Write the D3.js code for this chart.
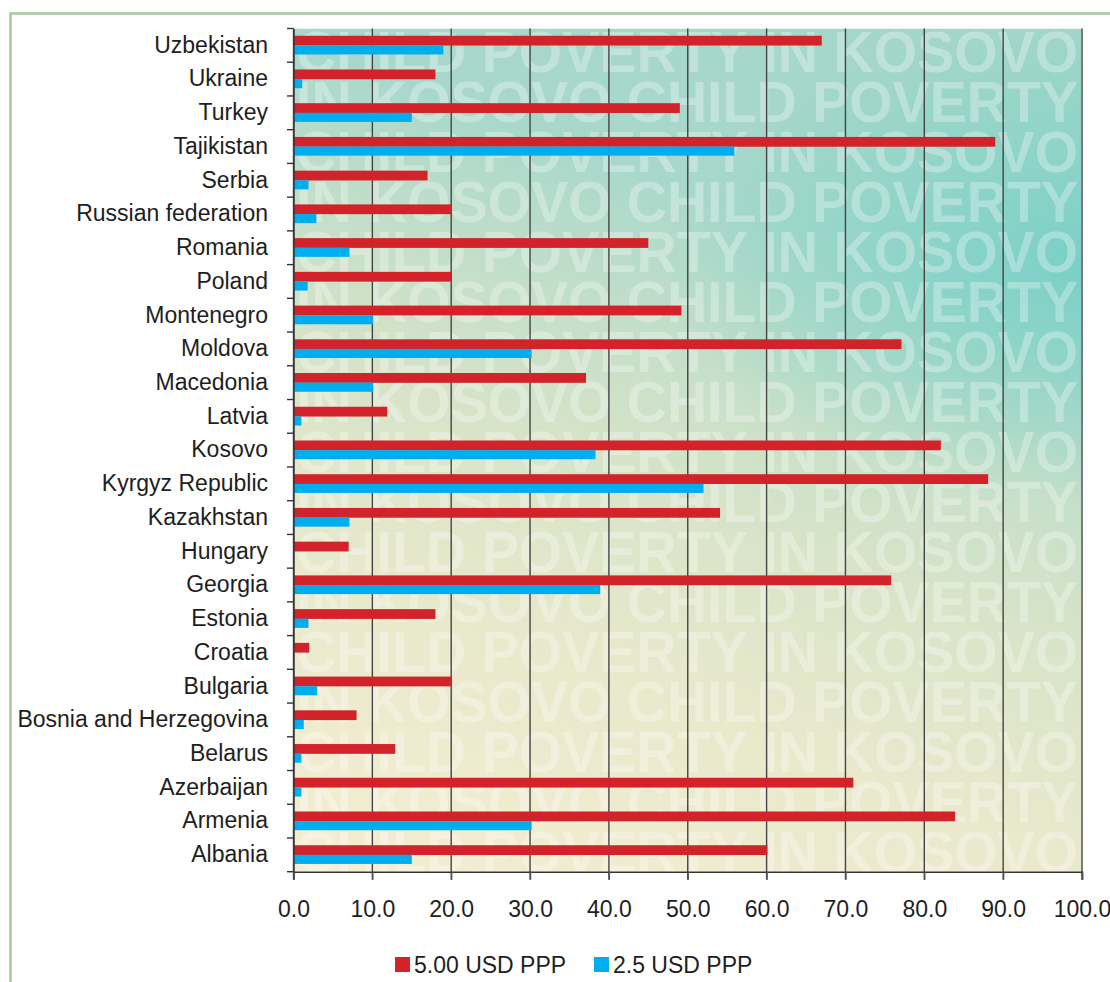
<!DOCTYPE html>
<html>
<head>
<meta charset="utf-8">
<script src="https://cdn.jsdelivr.net/npm/d3@7"></script>
<style>
  html, body { margin: 0; padding: 0; background: #fff; }
  svg { display: block; }
  text { font-family: "Liberation Sans", Arial, Helvetica, sans-serif; }
</style>
</head>
<body>
<svg id="chart" width="1110" height="982"></svg>
<script>
// Countries, listed top to bottom
const countries = [
  "Uzbekistan", "Ukraine", "Turkey", "Tajikistan", "Serbia",
  "Russian federation", "Romania", "Poland", "Montenegro", "Moldova",
  "Macedonia", "Latvia", "Kosovo", "Kyrgyz Republic", "Kazakhstan",
  "Hungary", "Georgia", "Estonia", "Croatia", "Bulgaria",
  "Bosnia and Herzegovina", "Belarus", "Azerbaijan", "Armenia", "Albania"
];

// Poverty rate (%) at the 5.00 USD PPP line
const usd500 = [
  67.0, 18.0, 49.0, 89.0, 17.0,
  20.0, 45.0, 20.0, 49.2, 77.1,
  37.1, 11.9, 82.1, 88.1, 54.1,
  7.0, 75.8, 18.0, 2.0, 20.0,
  8.0, 12.9, 71.0, 83.9, 60.1
];

// Poverty rate (%) at the 2.5 USD PPP line
const usd250 = [
  19.0, 1.1, 15.0, 55.9, 1.9,
  2.9, 7.1, 1.8, 10.1, 30.2,
  10.1, 1.0, 38.3, 52.0, 7.1,
  0.0, 38.9, 1.9, 0.0, 3.0,
  1.3, 1.0, 1.0, 30.2, 15.0
];

const xTicks = [0, 10, 20, 30, 40, 50, 60, 70, 80, 90, 100];

const seriesNames = ["5.00 USD PPP", "2.5 USD PPP"];
const seriesColors = ["#d2232a", "#00aeef"];

const watermarkRows = ["CHILD POVERTY IN KOSOVO", "IN KOSOVO CHILD POVERTY"];

// ---- layout ----
const svg = d3.select("#chart");
const plot = { left: 293.5, right: 1082, top: 28.5, bottom: 871.7 };

const x = d3.scaleLinear().domain([0, 100]).range([plot.left, plot.right]);
const y = d3.scaleBand().domain(countries).range([plot.top, plot.bottom]).padding(0);

const defs = svg.append("defs");

// Backdrop: teal at the top right fading to cream at the bottom left
const lin = defs.append("linearGradient")
  .attr("id", "bgLinear")
  .attr("gradientUnits", "userSpaceOnUse")
  .attr("x1", 818).attr("y1", -49)
  .attr("x2", 443).attr("y2", 943);
[
  [0, "#a2d6c9"], [0.256, "#a9d8cb"], [0.421, "#c9e0c8"],
  [0.57, "#dce5c9"], [0.719, "#e9e9cc"], [1, "#f5eed3"]
].forEach(([o, c]) => lin.append("stop").attr("offset", o).attr("stop-color", c));

const rad = defs.append("radialGradient").attr("id", "bgGlow");
[
  [0, "#74cfc6", 0.9], [0.5, "#7ad1c7", 0.5], [1, "#7ad1c7", 0]
].forEach(([o, c, a]) => rad.append("stop").attr("offset", o)
  .attr("stop-color", c).attr("stop-opacity", a));

defs.append("clipPath").attr("id", "plotClip")
  .append("rect")
  .attr("x", plot.left).attr("y", plot.top)
  .attr("width", plot.right - plot.left).attr("height", plot.bottom - plot.top);

// Green frame on the top and left
svg.append("path")
  .attr("d", "M10.5,982 V13.5 H1110")
  .attr("fill", "none")
  .attr("stroke", "#a5c9a0")
  .attr("stroke-width", 2.5);

const bg = svg.append("g").attr("clip-path", "url(#plotClip)");
bg.append("rect")
  .attr("x", plot.left).attr("y", plot.top)
  .attr("width", plot.right - plot.left).attr("height", plot.bottom - plot.top)
  .attr("fill", "url(#bgLinear)");
bg.append("ellipse")
  .attr("cx", 1095).attr("cy", 262)
  .attr("rx", 430).attr("ry", 240)
  .attr("fill", "url(#bgGlow)");

// Repeated watermark text
const rowCount = 17;
bg.selectAll("text.wm")
  .data(d3.range(rowCount))
  .join("text")
  .attr("class", "wm")
  .attr("x", 296)
  .attr("y", i => 72 + i * 50)
  .attr("textLength", 782)
  .attr("lengthAdjust", "spacingAndGlyphs")
  .attr("font-size", 57)
  .attr("font-weight", "bold")
  .attr("fill", "#ffffff")
  .attr("fill-opacity", 0.3)
  .text(i => watermarkRows[i % 2]);

// Vertical grid lines (extending below the axis as ticks)
svg.append("g")
  .selectAll("line")
  .data(xTicks)
  .join("line")
  .attr("x1", d => x(d)).attr("x2", d => x(d))
  .attr("y1", plot.top).attr("y2", plot.bottom + 8)
  .attr("stroke", d => d === 100 ? "#7a7a7a" : "#444")
  .attr("stroke-width", d => d === 100 ? 2 : 1.4);

// Bars
const rows = countries.map((c, i) => ({ country: c, values: [usd500[i], usd250[i]] }));
const bw = y.bandwidth();
const barOffset = [bw * 0.215, bw * 0.5];
const barHeight = [bw * 0.29, bw * 0.27];

const barGroups = svg.append("g")
  .selectAll("g")
  .data(rows)
  .join("g")
  .attr("transform", d => `translate(0,${y(d.country)})`);

barGroups.selectAll("rect")
  .data(d => d.values.map((v, k) => ({ v, k })))
  .join("rect")
  .attr("x", x(0))
  .attr("y", d => barOffset[d.k])
  .attr("width", d => x(d.v) - x(0))
  .attr("height", d => barHeight[d.k])
  .attr("fill", d => seriesColors[d.k]);

// X axis
const xAxis = d3.axisBottom(x)
  .tickValues(xTicks)
  .tickFormat(d3.format(".1f"))
  .tickSize(8)
  .tickPadding(21);
const gx = svg.append("g")
  .attr("transform", `translate(0,${plot.bottom})`)
  .call(xAxis);
gx.select(".domain").attr("stroke", "#333").attr("stroke-width", 1.6);
gx.selectAll(".tick line").attr("stroke", "#555").attr("stroke-width", 1.4);
gx.selectAll(".tick text")
  .attr("font-size", 23)
  .attr("fill", "#1e1e1e")
  .style("font-family", "'Liberation Sans', Arial, sans-serif");

// Y axis: labels centred in each band, ticks at the band boundaries
const yAxis = d3.axisLeft(y).tickSize(0).tickPadding(25.5);
const gy = svg.append("g")
  .attr("transform", `translate(${plot.left},0)`)
  .call(yAxis);
gy.select(".domain").attr("stroke", "#333").attr("stroke-width", 1.4);
gy.selectAll(".tick text")
  .attr("font-size", 23)
  .attr("fill", "#1e1e1e")
  .style("font-family", "'Liberation Sans', Arial, sans-serif");

const boundaries = countries.map(c => y(c)).concat([plot.bottom]);
svg.append("g")
  .selectAll("line")
  .data(boundaries)
  .join("line")
  .attr("x1", plot.left - 6.5).attr("x2", plot.left)
  .attr("y1", d => d).attr("y2", d => d)
  .attr("stroke", "#333")
  .attr("stroke-width", 1.4);

// Legend
const legendX = [395, 594];
const legend = svg.append("g")
  .selectAll("g")
  .data(seriesNames)
  .join("g")
  .attr("transform", (d, i) => `translate(${legendX[i]},957)`);
legend.append("rect")
  .attr("width", 15).attr("height", 15)
  .attr("fill", (d, i) => seriesColors[i]);
legend.append("text")
  .attr("x", 19).attr("y", 15.5)
  .attr("font-size", 23)
  .attr("fill", "#1e1e1e")
  .text(d => d);
</script>
</body>
</html>
